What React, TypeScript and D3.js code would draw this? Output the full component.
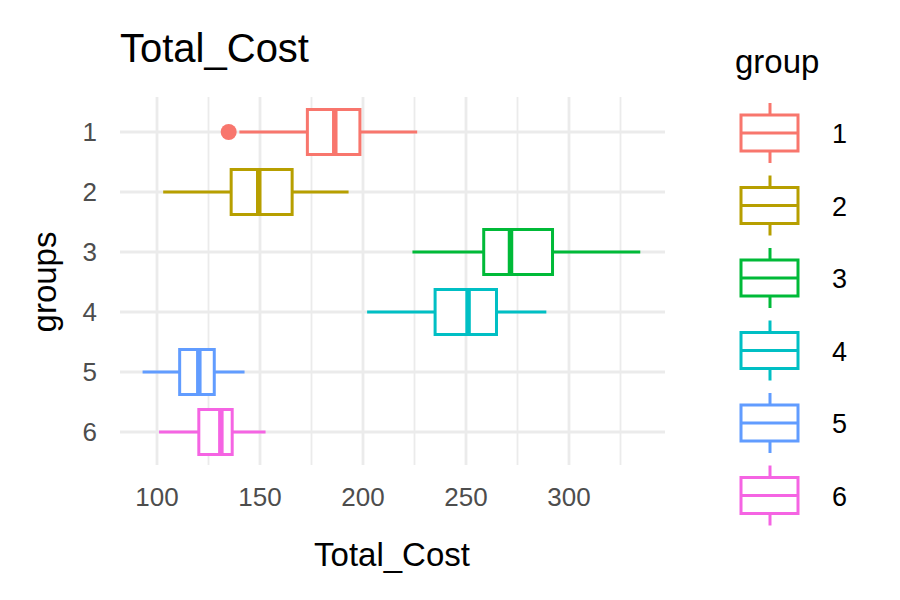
import React from "react";
import * as d3 from "d3";

const groups = ["1", "2", "3", "4", "5", "6"];
const colors = ["#F8766D", "#B79F00", "#00BA38", "#00BFC4", "#619CFF", "#F564E3"];
const whiskerLow = [140, 103, 224, 202, 93, 101];
const q1 = [173, 136, 258.6, 235, 111, 120.3];
const median = [186.3, 149.4, 271.6, 251, 120.3, 131];
const q3 = [198.5, 165.6, 292, 264.8, 127.8, 136.5];
const whiskerHigh = [226.3, 193, 334.6, 289, 142.5, 152.7];
const outliers: [number, number][] = [[0, 134.8]];
const xTicks = [100, 150, 200, 250, 300];
const xMinor = [125, 175, 225, 275, 325];

export default function App() {
  const W = 900, H = 600;
  const x = d3.scaleLinear().domain([100, 300]).range([157, 569]);
  const y = d3.scaleBand().domain(groups).range([102, 462]).padding(0);
  const yc = (g: string) => (y(g) as number) + y.bandwidth() / 2;
  const bh = y.bandwidth() * 0.75;
  const font = "Liberation Sans, Arial, sans-serif";
  const grid = "#EBEBEB";
  const [px0, px1] = [120, 665];
  const [py0, py1] = [97, 465];
  return (
    <svg width={W} height={H} style={{ display: "block", position: "absolute", left: 0, top: 0 }} fontFamily={font}>
      <rect width={W} height={H} fill="white" />
      {xMinor.map((t) => (
        <line key={"m" + t} x1={x(t)} x2={x(t)} y1={py0} y2={py1} stroke={grid} strokeWidth={1.8} />
      ))}
      {xTicks.map((t) => (
        <line key={"M" + t} x1={x(t)} x2={x(t)} y1={py0} y2={py1} stroke={grid} strokeWidth={2.8} />
      ))}
      {groups.map((g) => (
        <line key={"g" + g} x1={px0} x2={px1} y1={yc(g)} y2={yc(g)} stroke={grid} strokeWidth={2.8} />
      ))}
      {groups.map((g, i) => {
        const c = yc(g);
        return (
          <g key={g} stroke={colors[i]} fill="none" strokeWidth={3}>
            <line x1={x(whiskerLow[i])} x2={x(q1[i])} y1={c} y2={c} />
            <line x1={x(q3[i])} x2={x(whiskerHigh[i])} y1={c} y2={c} />
            <rect x={x(q1[i])} y={c - bh / 2} width={x(q3[i]) - x(q1[i])} height={bh} fill="white" />
            <line x1={x(median[i])} x2={x(median[i])} y1={c - bh / 2} y2={c + bh / 2} strokeWidth={5.5} />
          </g>
        );
      })}
      {outliers.map(([gi, v], k) => (
        <circle key={k} cx={x(v)} cy={yc(groups[gi])} r={8} fill={colors[gi]} />
      ))}
      {xTicks.map((t) => (
        <text key={"xt" + t} x={x(t)} y={506} textAnchor="middle" fontSize={26} fill="#4D4D4D">{t}</text>
      ))}
      {groups.map((g) => (
        <text key={"yt" + g} x={97} y={yc(g) + 9} textAnchor="end" fontSize={26} fill="#4D4D4D">{g}</text>
      ))}
      <text x={392} y={566} textAnchor="middle" fontSize={33}>Total_Cost</text>
      <text transform="translate(56,282) rotate(-90)" textAnchor="middle" fontSize={33}>groups</text>
      <text x={120} y={62} fontSize={40}>Total_Cost</text>
      <text x={735} y={73} fontSize={33}>group</text>
      {groups.map((g, i) => {
        const cy = 133 + i * 72.5;
        return (
          <g key={"lg" + g}>
            <g stroke={colors[i]} strokeWidth={3} fill="none">
              <line x1={770} x2={770} y1={cy - 30} y2={cy - 18} />
              <line x1={770} x2={770} y1={cy + 18} y2={cy + 30} />
              <rect x={741} y={cy - 18} width={57} height={36} fill="white" />
              <line x1={741} x2={798} y1={cy} y2={cy} />
            </g>
            <text x={832} y={cy + 10} fontSize={27}>{g}</text>
          </g>
        );
      })}
    </svg>
  );
}
